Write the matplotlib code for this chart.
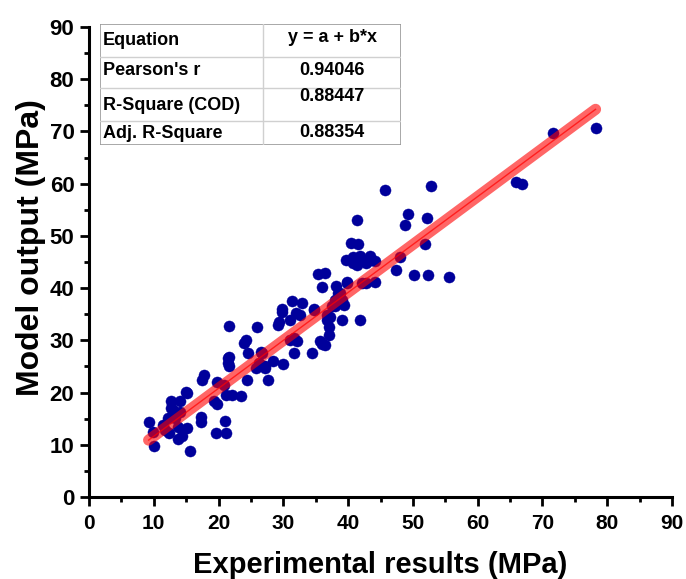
import numpy as np
import matplotlib
matplotlib.use("Agg")
import matplotlib.pyplot as plt
from matplotlib.ticker import MultipleLocator

plt.rcParams['font.family'] = ['Liberation Sans', 'DejaVu Sans']
plt.rcParams['font.weight'] = 'bold'

# --- data ---
exp_x = [9.2, 9.9, 10.0, 11.4, 11.7, 12.3, 13.8, 14.4, 15.2, 15.6,
         17.3, 17.3, 19.6, 21.1, 21.0, 12.7, 14.0, 12.9, 14.0, 15.0,
         15.2, 12.2, 13.2, 13.7, 12.7, 17.8, 17.5, 19.8, 19.3, 19.8,
         21.1, 22.1, 23.4, 21.4, 21.6, 21.6, 26.0, 23.9, 24.2, 24.6,
         21.5, 26.6, 26.2, 25.8, 27.1, 28.4, 29.9, 24.4, 27.6, 20.9,
         29.3, 29.8, 29.1, 31.4, 32.9, 31.9, 32.6, 31.1, 34.7, 31.6,
         31.1, 32.1, 35.7, 37.0, 36.5, 37.1, 36.7, 36.7, 35.3, 36.5,
         35.9, 38.2, 38.5, 39.8, 39.6, 38.0, 39.0, 38.0, 39.0, 41.3,
         40.4, 41.6, 40.8, 41.8, 41.3, 40.8, 43.4, 43.6, 44.1, 42.8,
         47.4, 48.8, 49.2, 39.8, 42.1, 42.8, 44.1, 38.8, 45.7, 52.8,
         52.2, 51.9, 48.0, 50.2, 52.3, 55.5, 65.9, 66.9, 71.6, 78.2,
         41.9, 34.4, 31.7, 35.9, 37.2, 39.3, 37.5, 29.8, 34.7, 21.6,
         27.2, 26.7]
model_y = [14.4, 12.5, 9.8, 13.8, 12.8, 12.2, 11.2, 11.6, 13.2, 8.9,
           15.4, 14.4, 12.2, 12.2, 14.6, 18.3, 18.3, 16.7, 16.3, 20.2,
           19.9, 15.1, 15.1, 13.5, 17.0, 23.4, 22.4, 22.1, 18.3, 17.9,
           19.5, 19.5, 19.3, 25.6, 25.0, 32.8, 32.5, 29.4, 30.1, 27.5,
           26.6, 27.8, 25.6, 24.7, 24.7, 26.1, 25.5, 22.4, 22.4, 21.5,
           33.6, 35.5, 33.0, 37.5, 37.1, 35.2, 34.9, 33.9, 35.8, 30.4,
           30.1, 29.8, 29.8, 31.0, 29.1, 32.6, 33.9, 34.9, 42.7, 42.8,
           40.3, 40.4, 39.0, 40.9, 45.4, 37.7, 37.7, 36.5, 33.9, 53.1,
           48.6, 48.4, 46.0, 46.2, 44.4, 44.8, 46.2, 45.4, 45.1, 44.8,
           43.4, 52.1, 54.2, 41.2, 40.9, 40.9, 41.2, 39.0, 58.8, 59.6,
           53.5, 48.5, 46.0, 42.5, 42.5, 42.2, 60.4, 59.9, 69.7, 70.7,
           33.8, 27.5, 27.5, 29.3, 34.5, 36.8, 36.5, 36.0, 36.0, 26.9,
           25.0, 27.5]

fit_a = 2.45
fit_b = 0.918

stat_names = ["Equation", "Pearson's r", "R-Square (COD)", "Adj. R-Square"]
stat_values = ["y = a + b*x", "0.94046", "0.88447", "0.88354"]

W, H = 686, 579
fig = plt.figure(figsize=(W / 100, H / 100), dpi=100)
ax = fig.add_axes([89 / W, 1 - 497 / H, 583 / W, 470 / H])

ax.scatter(exp_x, model_y, s=64, color='#00009b', edgecolors='#00009b', linewidths=0.3, zorder=2)

# fitted line, drawn over the points like the reference
xf = np.array([min(exp_x), max(exp_x)])
yf = fit_a + fit_b * xf
ax.plot(xf, yf, color='red', lw=8, alpha=0.6, solid_capstyle='round', zorder=3)
ax.plot(xf, yf, color='red', lw=1, alpha=0.7, zorder=4)

ax.set_xlim(0, 90)
ax.set_ylim(0, 90)
ax.set_xticks(range(0, 91, 10))
ax.set_yticks(range(0, 91, 10))
ax.xaxis.set_minor_locator(MultipleLocator(5))
ax.yaxis.set_minor_locator(MultipleLocator(5))
ax.tick_params(which='major', length=6.5, width=2, direction='out')
ax.tick_params(which='minor', length=3.5, width=2, direction='out')
ax.tick_params(axis='y', labelsize=16, pad=4)
ax.tick_params(axis='x', labelsize=15, pad=6)
for lab in ax.get_xticklabels() + ax.get_yticklabels():
    lab.set_fontweight('bold')

for side in ['top', 'right']:
    ax.spines[side].set_visible(False)
for side in ['left', 'bottom']:
    ax.spines[side].set_linewidth(2.2)

ax.set_xlabel("Experimental results (MPa)", fontsize=21, fontweight='bold', va='center')
ax.xaxis.set_label_coords(0.5, -0.145)
ax.set_ylabel("Model output (MPa)", fontsize=23, fontweight='bold', va='center')
ax.yaxis.set_label_coords(-0.099, 0.53)

# --- stats table (pixel coords of the reference) ---
tl, tr, tt, tb = 100, 401, 24, 145
tax = fig.add_axes([tl / W, 1 - tb / H, (tr - tl) / W, (tb - tt) / H])
tax.set_xlim(tl, tr)
tax.set_ylim(tb, tt)
tax.axis('off')
tax.add_patch(plt.Rectangle((tl, tt), tr - tl, tb - tt, facecolor='white', edgecolor='#9a9a9a', lw=1.2))
for yl in [57, 88, 121]:
    tax.plot([tl, tr], [yl, yl], color='#d0d0d0', lw=1)
tax.plot([263, 263], [tt, tb], color='#d0d0d0', lw=1)
name_y = [40.7, 70.7, 105, 133]
val_y = [37.3, 70.7, 96, 132.7]
for nm, vl, ny, vy in zip(stat_names, stat_values, name_y, val_y):
    tax.text(103, ny, nm, fontsize=13, fontweight='bold', ha='left', va='center')
    tax.text(332, vy, vl, fontsize=13, fontweight='bold', ha='center', va='center')

fig.savefig("out.png", dpi=100)
